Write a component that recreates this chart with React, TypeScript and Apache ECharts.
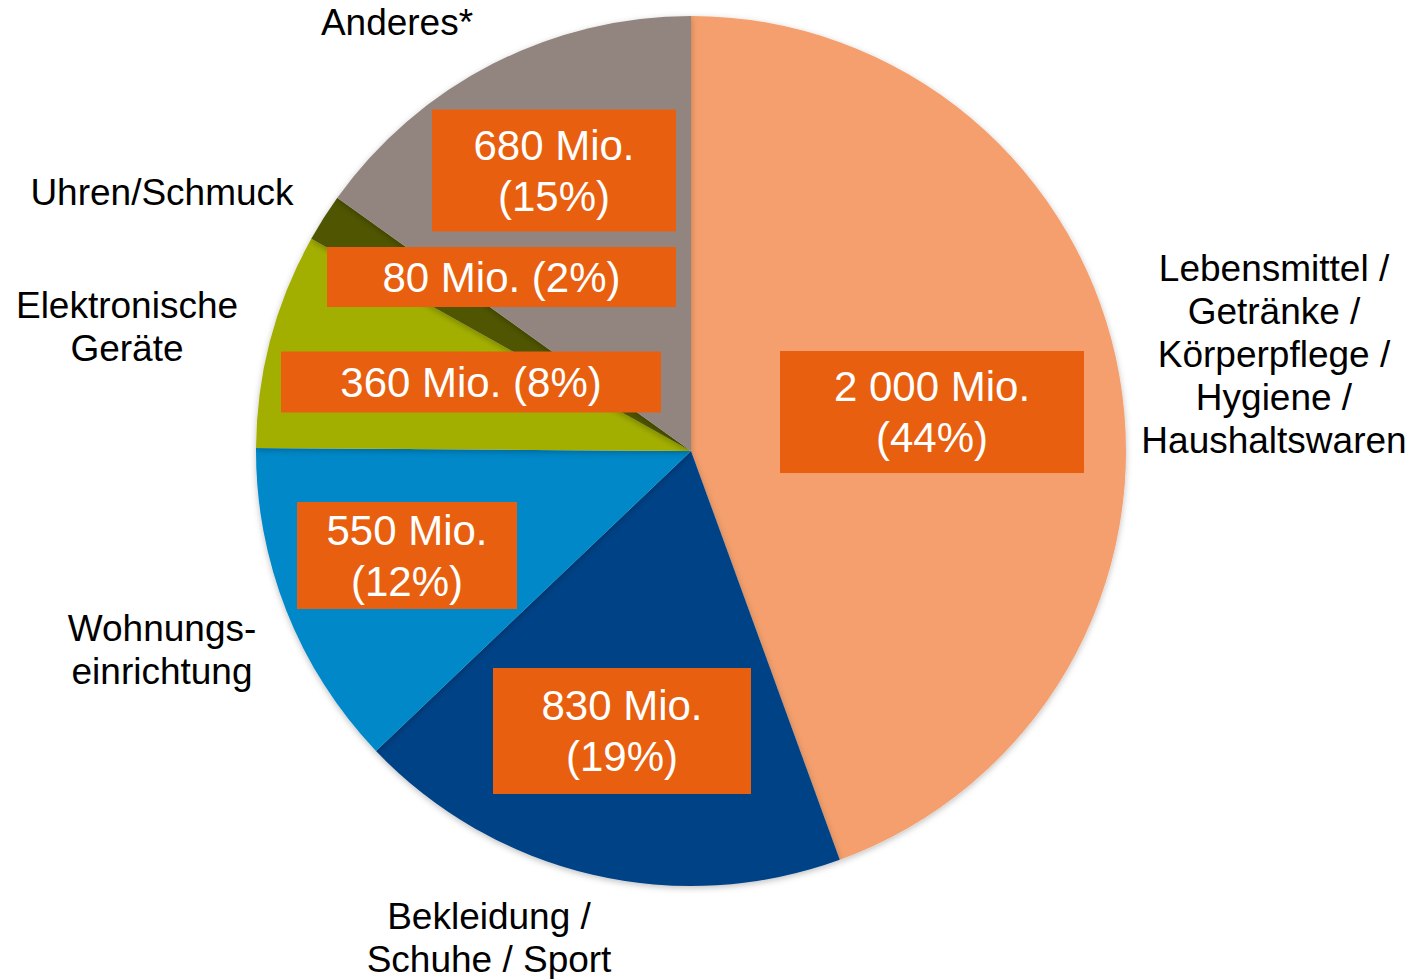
import React, { useEffect, useRef } from "react";
import * as echarts from "echarts";

const categories = [
  "Lebensmittel /\nGetränke /\nKörperpflege /\nHygiene /\nHaushaltswaren",
  "Bekleidung /\nSchuhe / Sport",
  "Wohnungs-\neinrichtung",
  "Elektronische\nGeräte",
  "Uhren/Schmuck",
  "Anderes*",
];
const values = [2000, 830, 550, 360, 80, 680];
const valueLabels = ["2 000 Mio.", "830 Mio.", "550 Mio.", "360 Mio.", "80 Mio.", "680 Mio."];
const percentLabels = ["44%", "19%", "12%", "8%", "2%", "15%"];
const colors = ["#F49F6D", "#004386", "#0088C8", "#A3AF00", "#505500", "#928580"];

// label layout (styling / positions)
const boxLayout = [
  { x: 932, y: 412, w: 304, vpad: 10, oneLine: false },
  { x: 622, y: 731, w: 258, vpad: 12, oneLine: false },
  { x: 407, y: 555.5, w: 220, vpad: 2.5, oneLine: false },
  { x: 471, y: 382, w: 380, vpad: 5, oneLine: true },
  { x: 501.5, y: 277, w: 349, vpad: 4.5, oneLine: true },
  { x: 554, y: 170.5, w: 244, vpad: 10, oneLine: false },
];
const nameLayout = [
  { x: 1274, y: 354.5 },
  { x: 489, y: 938 },
  { x: 162, y: 650 },
  { x: 127, y: 327 },
  { x: 162, y: 192 },
  { x: 397, y: 22 },
];

const FONT = "'Liberation Sans', Arial, sans-serif";

export default function App() {
  const ref = useRef<HTMLDivElement>(null);
  useEffect(() => {
    if (!ref.current) return;
    const chart = echarts.init(ref.current, undefined, { renderer: "svg" });
    const boxData = values.map((v, i) => ({
      value: v,
      name: categories[i],
      itemStyle: { color: colors[i] },
      label: {
        width: boxLayout[i].w,
        padding: [boxLayout[i].vpad, 0, boxLayout[i].vpad, 0],
        formatter: boxLayout[i].oneLine
          ? `${valueLabels[i]} (${percentLabels[i]})`
          : `${valueLabels[i]}\n(${percentLabels[i]})`,
      },
    }));
    const nameData = values.map((v, i) => ({
      value: v,
      name: categories[i],
    }));
    chart.setOption({
      animation: false,
      series: [
        {
          type: "pie",
          center: [691, 451],
          radius: 435,
          startAngle: 90,
          clockwise: true,
          avoidLabelOverlap: false,
          silent: true,
          itemStyle: {
            shadowBlur: 6,
            shadowColor: "rgba(0,0,0,0.25)",
            shadowOffsetY: 2,
          },
          label: {
            show: true,
            position: "inside",
            color: "#ffffff",
            fontSize: 42,
            lineHeight: 51,
            fontFamily: FONT,
            backgroundColor: "#E8600F",
            align: "center",
          },
          labelLine: { show: false },
          labelLayout: (p: any) => ({
            x: boxLayout[p.dataIndex].x,
            y: boxLayout[p.dataIndex].y,
            align: "center",
            verticalAlign: "middle",
          }),
          data: boxData,
        },
        {
          type: "pie",
          center: [691, 451],
          radius: 435,
          startAngle: 90,
          clockwise: true,
          avoidLabelOverlap: false,
          silent: true,
          itemStyle: { color: "rgba(0,0,0,0)" },
          label: {
            show: true,
            position: "outside",
            color: "#000000",
            fontSize: 37,
            lineHeight: 43,
            fontFamily: FONT,
            align: "center",
            formatter: "{b}",
          },
          labelLine: { show: false },
          labelLayout: (p: any) => ({
            x: nameLayout[p.dataIndex].x,
            y: nameLayout[p.dataIndex].y,
            align: "center",
            verticalAlign: "middle",
          }),
          data: nameData,
        },
      ],
    });
    return () => chart.dispose();
  }, []);
  return (
    <div
      ref={ref}
      style={{ position: "fixed", left: 0, top: 0, width: 1425, height: 979, background: "#fff" }}
    />
  );
}
